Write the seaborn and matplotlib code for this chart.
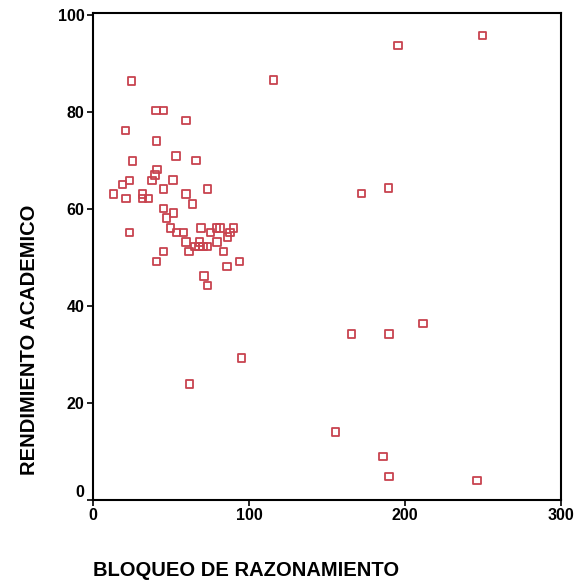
import numpy as np
import seaborn as sns
import matplotlib.pyplot as plt

## values
bloqueo = [40.4, 45.1, 59.6, 21.0, 40.6, 53.2, 25.4, 66.0, 41.0, 39.7,
           23.3, 37.8, 51.3, 19.0, 45.1, 73.3, 13.0, 31.6, 59.6, 21.2,
           31.6, 35.7, 63.9, 45.1, 51.5, 47.2, 23.3, 49.6, 69.2, 79.3,
           81.4, 90.2, 53.7, 57.9, 75.4, 87.8, 86.1, 59.6, 68.1, 79.5,
           61.5, 65.4, 67.9, 70.5, 73.5, 83.8, 45.3, 40.8, 93.9, 85.9,
           71.2, 73.3,
           24.8, 115.6, 195.5, 249.7, 172.0, 189.6, 165.8, 189.7, 211.5,
           155.6, 185.9, 189.7, 246.2, 95.3, 62.0]
rendimiento = [80.3, 80.3, 78.3, 76.2, 74.0, 70.9, 69.9, 70.0, 68.1, 67.0,
               65.9, 65.9, 66.0, 65.0, 64.1, 64.1, 63.1, 63.1, 63.1, 62.1,
               62.1, 62.1, 61.0, 60.1, 59.2, 58.1, 55.2, 56.1, 56.1, 56.1,
               56.1, 56.1, 55.2, 55.2, 55.2, 55.2, 54.2, 53.2, 53.2, 53.2,
               51.2, 52.2, 52.2, 52.2, 52.2, 51.2, 51.2, 49.1, 49.1, 48.2,
               46.2, 44.2,
               86.4, 86.6, 93.7, 95.7, 63.2, 64.3, 34.2, 34.2, 36.4,
               14.0, 8.9, 4.9, 4.0, 29.3, 23.9]

x_ticks = [0, 100, 200, 300]
y_ticks = [0, 20, 40, 60, 80, 100]

sns.set_style("white")
plt.rcParams['font.family'] = ['Liberation Sans', 'DejaVu Sans']
plt.rcParams['text.color'] = 'black'

fig = plt.figure(figsize=(5.76, 5.82), dpi=100)
ax = fig.add_axes([0.1615, 0.1409, 0.8125, 0.8368])

sns.scatterplot(x=bloqueo, y=rendimiento, ax=ax, marker='s', s=28,
                facecolor='none', edgecolor='#c8434f', linewidth=1.3)

ax.set_xlim(0, 300)
ax.set_ylim(0, 100.4)
ax.set_xticks(x_ticks)
ax.set_yticks(y_ticks)
ax.set_xticklabels([str(t) for t in x_ticks], fontweight='bold', fontsize=11.5)
ax.set_yticklabels([str(t) for t in y_ticks], fontweight='bold', fontsize=11.5)
ax.get_yticklabels()[0].set_va('bottom')
ax.tick_params(direction='out', length=4, width=1.2, color='black',
               labelcolor='black', left=True, bottom=True, pad=2)
for sp in ax.spines.values():
    sp.set_visible(True)
    sp.set_color('black')
    sp.set_linewidth(1.5)

ax.set_xlabel('')
ax.set_ylabel('')
fig.text(93 / 576, 1 - 570 / 582, 'BLOQUEO DE RAZONAMIENTO', fontsize=14.5,
         fontweight='bold', ha='left', va='center', color='black')
fig.text(30 / 576, 1 - 340 / 582, 'RENDIMIENTO ACADEMICO', fontsize=14.5,
         fontweight='bold', ha='center', va='center', rotation=90,
         color='black')

fig.savefig('out.png', dpi=100)
